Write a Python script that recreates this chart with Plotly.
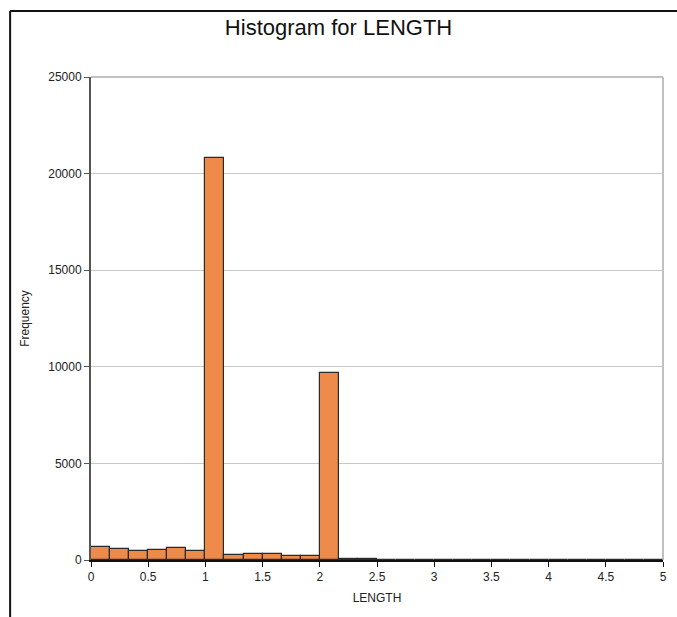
import plotly.graph_objects as go

bin_width = 1 / 6
bin_starts = [i / 6 for i in range(30)]
counts = [690, 555, 450, 520, 620, 480, 20800, 260, 320, 310, 190, 210,
          9660, 70, 30, 20, 15, 10, 5, 4, 3, 2, 2, 1, 1, 1, 1, 0, 0, 0]
x_ticks = [0, 0.5, 1, 1.5, 2, 2.5, 3, 3.5, 4, 4.5, 5]
x_tick_labels = ["0", "0.5", "1", "1.5", "2", "2.5", "3", "3.5", "4", "4.5", "5"]
y_ticks = [0, 5000, 10000, 15000, 20000, 25000]

fig = go.Figure()
fig.add_trace(go.Bar(
    x=bin_starts, y=counts, width=bin_width, offset=0,
    marker=dict(color="#EE8B4B", line=dict(color="#2a2a2a", width=1.2)),
    showlegend=False,
))

font = "Liberation Sans, Arial, sans-serif"
fig.update_layout(
    width=677, height=617,
    margin=dict(l=91, r=10, t=77, b=57),
    paper_bgcolor="white", plot_bgcolor="white",
    bargap=0,
    font=dict(family=font, size=12, color="#222"),
    title=dict(text="Histogram for LENGTH", x=0.4328, xref="paper", xanchor="center",
               y=0.955, yanchor="middle",
               font=dict(family=font, size=22, color="#111")),
    xaxis=dict(range=[0, 5], tickvals=x_ticks, ticktext=x_tick_labels,
               showgrid=False, zeroline=False, showline=True, linecolor="#111",
               linewidth=2, ticks="outside", ticklen=5, tickcolor="#111",
               title=dict(text="LENGTH", font=dict(size=12), standoff=10)),
    yaxis=dict(range=[0, 25000], tickvals=y_ticks, tickformat="d",
               showgrid=True, gridcolor="#c8c8c8", gridwidth=1, zeroline=False,
               showline=True, linecolor="#555", linewidth=2, ticks="outside",
               ticklen=5, tickcolor="#555",
               title=dict(text="Frequency", font=dict(size=12), standoff=16)),
    shapes=[
        dict(type="line", xref="paper", yref="paper", x0=0, x1=1, y0=1, y1=1,
             line=dict(color="#c0c0c0", width=2), layer="below"),
        dict(type="line", xref="paper", yref="paper", x0=1, x1=1, y0=0, y1=1,
             line=dict(color="#c0c0c0", width=2), layer="below"),
        dict(type="line", xref="paper", yref="paper", x0=-0.1414, x1=1.0335,
             y0=1.1366, y1=1.1366, line=dict(color="#111", width=2)),
        dict(type="line", xref="paper", yref="paper", x0=-0.1414, x1=-0.1414,
             y0=1.1366, y1=-0.2, line=dict(color="#111", width=2)),
        dict(type="line", xref="paper", yref="paper", x0=1.0335, x1=1.0335,
             y0=1.1366, y1=-0.2, line=dict(color="#111", width=2)),
    ],
)

fig.write_html(
    "out.html",
    config={"displayModeBar": False},
    post_script="document.documentElement.style.margin='0';"
                "document.body.style.margin='0';"
                "document.body.style.overflow='hidden';",
)
